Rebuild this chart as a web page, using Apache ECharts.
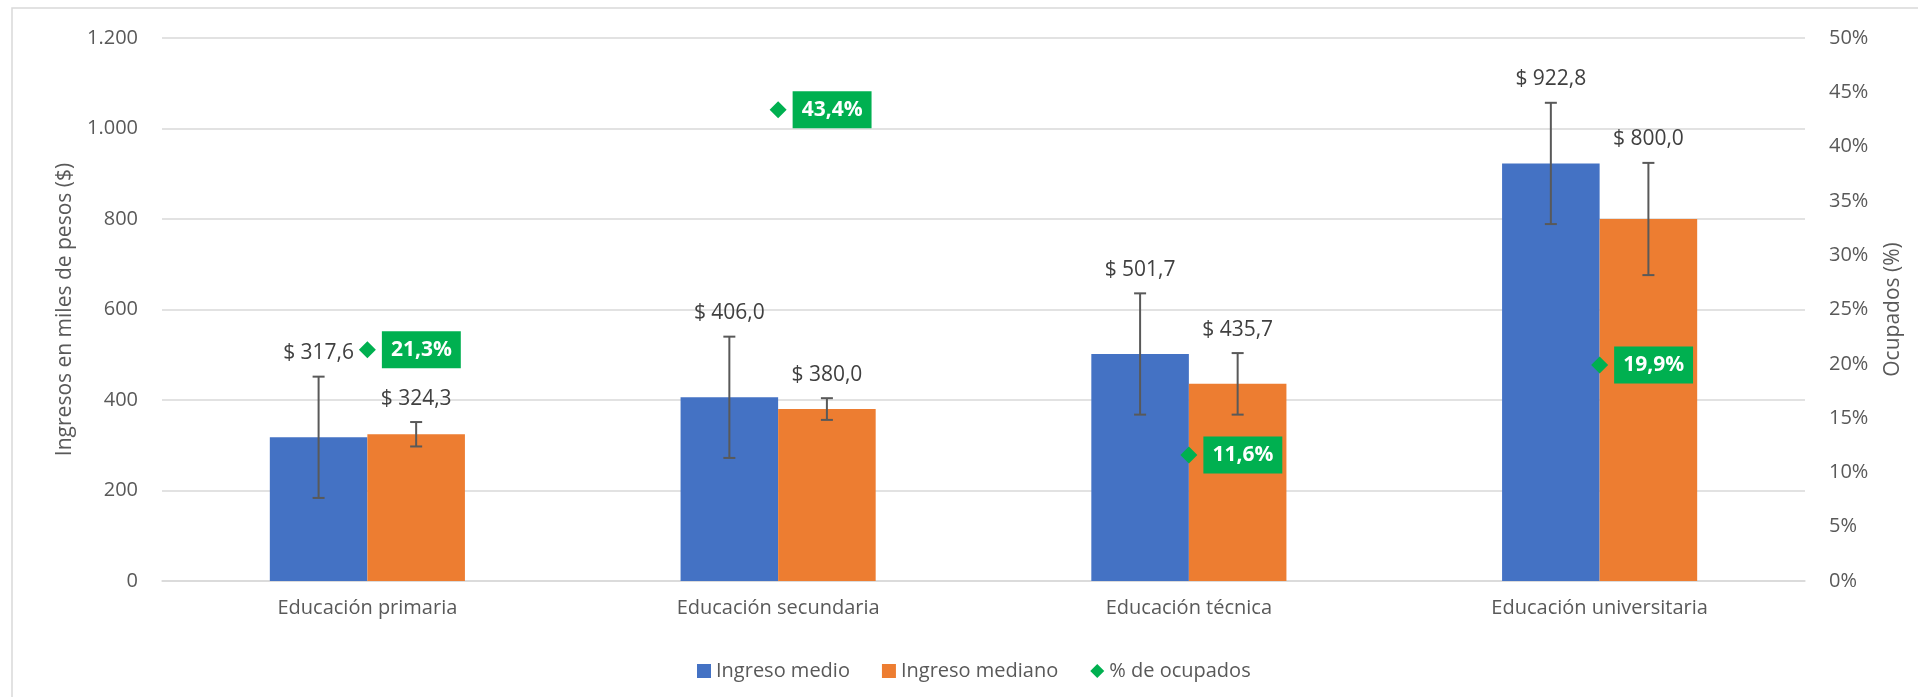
<!DOCTYPE html>
<html><head><meta charset="utf-8">
<script src="https://cdn.jsdelivr.net/npm/echarts@6/dist/echarts.min.js"></script>
<style>html,body{margin:0;padding:0;background:#fff}#c{width:1918px;height:697px}</style>
</head><body><div id="c"></div>
<script>
// ---- data ----
const categories = ['Educación primaria', 'Educación secundaria', 'Educación técnica', 'Educación universitaria'];
const ingresoMedio = [317.6, 406.0, 501.7, 922.8];
const ingresoMediano = [324.3, 380.0, 435.7, 800.0];
const errorMedio = [134, 134, 134, 134];
const errorMediano = [27, 24, 68, 124];
const pctOcupados = [21.3, 43.4, 11.6, 19.9];
const seriesNames = ['Ingreso medio', 'Ingreso mediano', '% de ocupados'];

// ---- styles ----
const FONT = '"Open Sans", "Liberation Sans", sans-serif';
const GAP = 0.525;
const AXIS_GRAY = '#595959';

function fmtNum(v) { return v.toFixed(1).replace('.', ','); }
function fmtThousands(v) { return String(v).replace(/\B(?=(\d{3})+(?!\d))/g, '.'); }

function errRender(side) {
  return function (params, api) {
    const i = api.value(0), v = api.value(1), e = api.value(2);
    const band = api.size([1, 0])[0];
    const bw = band * (1 - GAP) / 2;
    const c = api.coord([i, v]);
    const x = c[0] + side * bw / 2;
    const top = api.coord([i, v + e])[1];
    const bot = api.coord([i, v - e])[1];
    const cap = 6;
    const st = { stroke: '#595959', lineWidth: 2 };
    return {
      type: 'group', children: [
        { type: 'line', shape: { x1: x, y1: top, x2: x, y2: bot }, style: st },
        { type: 'line', shape: { x1: x - cap, y1: top, x2: x + cap, y2: top }, style: st },
        { type: 'line', shape: { x1: x - cap, y1: bot, x2: x + cap, y2: bot }, style: st },
        { type: 'text', x: x, y: top - 13, style: { text: '$ ' + fmtNum(v), fill: '#404040', font: '21px ' + FONT, align: 'center', verticalAlign: 'bottom' } }
      ]
    };
  };
}

const chart = echarts.init(document.getElementById('c'), null, { renderer: 'canvas' });
chart.setOption({
  animation: false,
  backgroundColor: '#ffffff',
  textStyle: { fontFamily: FONT },
  graphic: [{
    type: 'rect', shape: { x: 12, y: 8, width: 1930, height: 720 },
    style: { fill: 'none', stroke: '#d9d9d9', lineWidth: 1.5 }, silent: true
  }],
  grid: { left: 162, right: 113, top: 38, bottom: 116 },
  legend: {
    left: 692, top: 656,
    itemWidth: 14, itemHeight: 14, itemGap: 32,
    textStyle: { fontSize: 20, color: AXIS_GRAY, fontFamily: FONT },
    data: [
      { name: seriesNames[0], icon: 'rect' },
      { name: seriesNames[1], icon: 'rect' },
      { name: seriesNames[2], icon: 'diamond' }
    ]
  },
  xAxis: {
    type: 'category', data: categories,
    axisTick: { show: false },
    axisLine: { lineStyle: { color: '#d9d9d9', width: 1.5 } },
    axisLabel: { color: AXIS_GRAY, fontSize: 20, margin: 17, fontFamily: FONT }
  },
  yAxis: [{
    type: 'value', min: 0, max: 1200, interval: 200,
    name: 'Ingresos en miles de pesos ($)', nameLocation: 'middle', nameRotate: 90, nameGap: 86,
    nameTextStyle: { fontSize: 21, color: AXIS_GRAY, fontFamily: FONT },
    axisLine: { show: false }, axisTick: { show: false },
    splitLine: { lineStyle: { color: '#d9d9d9', width: 1.5 } },
    axisLabel: { color: AXIS_GRAY, fontSize: 20, margin: 24, formatter: v => fmtThousands(v), fontFamily: FONT }
  }, {
    type: 'value', min: 0, max: 50, interval: 5,
    name: 'Ocupados (%)', nameLocation: 'middle', nameRotate: 90, nameGap: 78,
    nameTextStyle: { fontSize: 21, color: AXIS_GRAY, fontFamily: FONT },
    axisLine: { show: false }, axisTick: { show: false }, splitLine: { show: false },
    axisLabel: { color: AXIS_GRAY, fontSize: 20, margin: 24, formatter: '{value}%', fontFamily: FONT }
  }],
  series: [{
    name: seriesNames[0], type: 'bar', data: ingresoMedio,
    barGap: '0%', barCategoryGap: (GAP * 100) + '%',
    itemStyle: { color: '#4472C4' }
  }, {
    name: seriesNames[1], type: 'bar', data: ingresoMediano,
    barGap: '0%', barCategoryGap: (GAP * 100) + '%',
    itemStyle: { color: '#ED7D31' }
  }, {
    type: 'custom', name: 'errMedio', renderItem: errRender(-1), z: 5,
    data: ingresoMedio.map((v, i) => [i, v, errorMedio[i]]),
    encode: { x: 0, y: 1 }, silent: true
  }, {
    type: 'custom', name: 'errMediano', renderItem: errRender(1), z: 5,
    data: ingresoMediano.map((v, i) => [i, v, errorMediano[i]]),
    encode: { x: 0, y: 1 }, silent: true
  }, {
    name: seriesNames[2], type: 'scatter', yAxisIndex: 1, data: pctOcupados,
    symbol: 'diamond', symbolSize: 17, z: 10,
    itemStyle: { color: '#00B050', opacity: 1 },
    label: {
      show: true, position: 'right', distance: 6,
      backgroundColor: '#00B050', color: '#ffffff', fontWeight: 'bold', fontSize: 21,
      padding: [8, 9], fontFamily: FONT,
      formatter: p => fmtNum(p.value) + '%'
    }
  }]
});
</script>
</body></html>
